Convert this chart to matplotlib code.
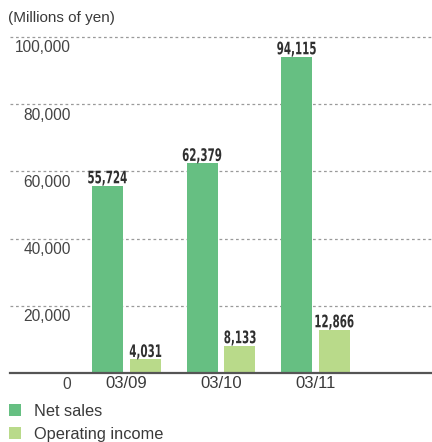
import matplotlib.pyplot as plt
import matplotlib.transforms as mtransforms
from matplotlib.font_manager import FontProperties
from matplotlib.patches import PathPatch
from matplotlib.textpath import TextPath
import numpy as np

years = ["03/09", "03/10", "03/11"]
net_sales = [55724, 62379, 94115]
operating_income = [4031, 8133, 12866]
grid_values = [20000, 40000, 60000, 80000, 100000]
grid_labels = ["20,000", "40,000", "60,000", "80,000", "100,000"]

green = "#66bf82"
light_green = "#b9da8a"
text_color = "#3a3a3a"

fig = plt.figure(figsize=(4.32, 4.42), dpi=100)
W, H = 432, 442
ax = fig.add_axes([10 / W, 1 - 373 / H, 422 / W, 336 / H])

x = np.arange(len(years))
width = 0.328
off = 0.201
b1 = ax.bar(x - off, net_sales, width, color=green, zorder=3, label="Net sales")
b2 = ax.bar(x + off, operating_income, width, color=light_green, zorder=3,
            label="Operating income")

ax.set_xlim(-1.233, 3.233)
ax.set_ylim(0, 100000)

# dashed grid lines with their labels tucked underneath
for v, lab in zip(grid_values, grid_labels):
    ax.axhline(v, color="#9a9a9a", lw=0.9, ls=(0, (2.2, 2.2)), zorder=1, clip_on=False)
    tr = mtransforms.offset_copy(ax.get_yaxis_transform(), fig=fig, y=-2.5, units="points")
    ax.text(0.1445, v, lab, transform=tr, ha="right", va="top",
            fontsize=11.2, color="#444444", family="Liberation Sans")
tr0 = mtransforms.offset_copy(ax.get_yaxis_transform(), fig=fig, y=-3, units="points")
ax.text(0.1445, 0, "0", transform=tr0, ha="right", va="top",
        fontsize=11.2, color="#444444", family="Liberation Sans")

ax.axhline(0, color="#555555", lw=1.6, zorder=4, clip_on=False)

# value labels: bold text squeezed horizontally to get a condensed face
bold = FontProperties(family="DejaVu Sans", weight="bold")
for bars, vals in ((b1, net_sales), (b2, operating_income)):
    for rect, v in zip(bars, vals):
        tp = TextPath((0, 0), f"{v:,}", size=17.2, prop=bold)
        ext = tp.get_extents()
        cx = (ext.x0 + ext.x1) / 2
        tr = (mtransforms.Affine2D().translate(-cx, 2.5).scale(0.6, 1)
              + mtransforms.ScaledTranslation(rect.get_x() + rect.get_width() / 2, v,
                                              ax.transData))
        ax.add_patch(PathPatch(tp, transform=tr, facecolor="#2f2f2f", lw=0,
                               zorder=5, clip_on=False))

ax.set_xticks(x)
ax.set_xticklabels(years, fontsize=12, color=text_color, family="Liberation Sans")
ax.tick_params(axis="x", length=0, pad=2.5)
ax.set_yticks([])
for s in ax.spines.values():
    s.set_visible(False)

fig.text(8 / W, 1 - 18 / H, "(Millions of yen)", ha="left", va="center",
         fontsize=11, color=text_color, family="Liberation Sans")

fig.legend(handles=[b1, b2], loc="upper left", bbox_to_anchor=(2 / W, 1 - 397 / H),
           frameon=False, handlelength=0.75, handleheight=0.75,
           handletextpad=0.8, labelspacing=0.5, borderaxespad=0,
           prop={"family": "Liberation Sans", "size": 11.8},
           labelcolor=text_color)

fig.savefig("out.png", dpi=100)
